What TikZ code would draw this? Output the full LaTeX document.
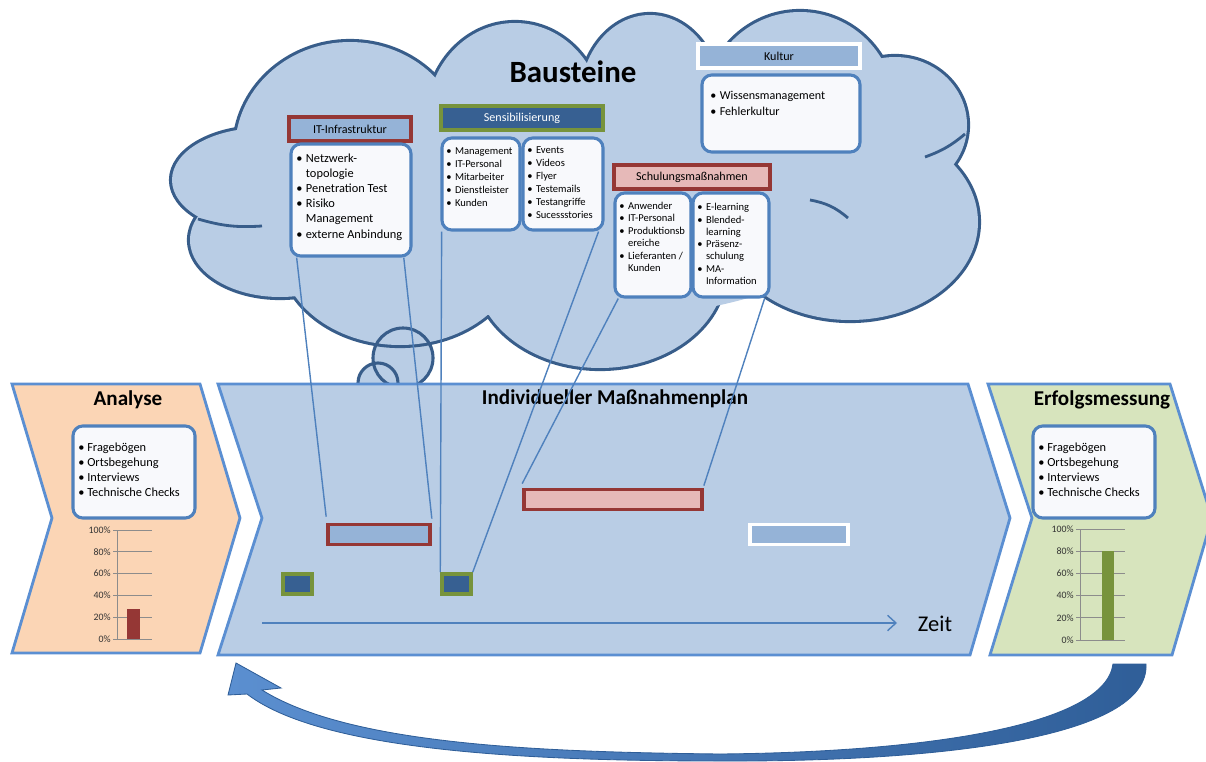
\documentclass[tikz,border=0pt]{standalone}
\usepackage{fontspec}
\setmainfont{Carlito}
\usepackage{tikz}
\usetikzlibrary{calc,arrows.meta}

\definecolor{cloudfill}{HTML}{B9CDE5}
\definecolor{cloudline}{HTML}{385D8A}
\definecolor{chevline}{HTML}{5B8FD2}
\definecolor{anafill}{HTML}{FBD5B5}
\definecolor{erffill}{HTML}{D7E4BD}
\definecolor{boxline}{HTML}{4F81BD}
\definecolor{boxfill}{HTML}{F8F9FC}
\definecolor{lightblue}{HTML}{95B3D7}
\definecolor{darkblue}{HTML}{376092}
\definecolor{darkred}{HTML}{953735}
\definecolor{rosa}{HTML}{E6B9B8}
\definecolor{olive}{HTML}{77933C}
\definecolor{gridgray}{HTML}{8C8C8C}
\definecolor{arrowlight}{HTML}{5B8FD0}
\definecolor{arrowdark}{HTML}{2F5E98}

\newcommand{\blt}{\textbullet}
\newcommand{\listfont}{\fontsize{8.8}{10.7}\selectfont}
\newcommand{\kleinfont}{\fontsize{7.5}{9.2}\selectfont}

\tikzset{
  chevron/.style={draw=chevline, line width=2pt, line join=miter},
  phase/.style={font=\fontsize{15}{17}\selectfont\bfseries, inner sep=0pt},
  headbox/.style={line width=2.4pt, minimum height=0.6cm, inner sep=0pt, font=\fontsize{8.6}{10}\selectfont},
  listbox/.style={draw=boxline, fill=boxfill, line width=2.2pt, rounded corners=7pt, inner sep=0pt},
  listtext/.style={anchor=north west, inner sep=0pt, align=left},
  bar/.style={line width=2.6pt, inner sep=0pt, minimum height=0.5cm},
  milestone/.style={draw=olive, fill=darkblue, line width=2.6pt, inner sep=0pt, minimum width=0.72cm, minimum height=0.5cm},
  link/.style={draw=boxline, line width=1pt},
  cloudarc/.style={draw=cloudline, line width=2pt},
  gridline/.style={draw=gridgray, line width=0.5pt},
  axislabel/.style={anchor=east, inner sep=0pt, font=\fontsize{7}{8}\selectfont, text=black!80},
}

\begin{document}
\begin{tikzpicture}[x=0.025cm, y=-0.025cm]
\useasboundingbox (0,0) rectangle (1206,762);

% thought bubbles (fill first, outline after the cloud)
\fill[cloudfill] (403,358) circle (30) (378,383) circle (20);

% cloud: outline of all puffs, then fill on top
\foreach \cx/\cy/\rx/\ry in {350/150/115/108, 515/118/88/95, 650/100/70/85, 800/108/95/96, 895/125/72/68, 850/222/128/98, 600/270/125/98, 400/250/120/95, 280/240/90/57, 262/180/90/52}
  \draw[cloudline, line width=4.4pt] (\cx,\cy) ellipse ({\rx} and {\ry});
\foreach \cx/\cy/\rx/\ry in {350/150/115/108, 515/118/88/95, 650/100/70/85, 800/108/95/96, 895/125/72/68, 850/222/128/98, 600/270/125/98, 400/250/120/95, 280/240/90/57, 262/180/90/52, 575/200/300/120}
  \fill[cloudfill] (\cx,\cy) ellipse ({\rx} and {\ry});
\draw[cloudarc] (198,219) to[bend right=10] (262,226);
\draw[cloudarc] (965,134) to[bend left=10] (925,157);
\draw[cloudarc] (810,200) to[bend left=15] (848,218);

\draw[cloudline, line width=2.2pt] (403,358) circle (30) (378,383) circle (20);

\node[font=\fontsize{22}{26}\selectfont\bfseries] (bausteine) at (573,72) {Bausteine};

% phases
\draw[chevron, fill=anafill] (12,384) -- (200,384) -- (240,518) -- (200,653) -- (12,653) -- (52,518) -- cycle;
\draw[chevron, fill=cloudfill] (218,384) -- (968,384) -- (1010,518) -- (970,655) -- (218,655) -- (262,518) -- cycle;
\draw[chevron, fill=erffill] (988,384) -- (1170,384) -- (1212,518) -- (1172,655) -- (990,655) -- (1032,518) -- cycle;

\node[phase] (analyse) at (128,400) {Analyse};
\node[phase] (plan) at (615,399) {Individueller Maßnahmenplan};
\node[phase] (erfolg) at (1102,400) {Erfolgsmessung};

% Bausteine
\node[headbox, draw=darkred, fill=lightblue, minimum width=3.05cm] (ithead) at (350,129) {IT-Infrastruktur};
\node[listbox, minimum width=3cm, minimum height=2.8cm] (itbox) at (351,200) {};
\node[listtext, font=\listfont] (ittext) at (296,152) {\begin{tabular}{@{}l@{\hspace{2.5pt}}l@{}}
\blt & Netzwerk-\\ & topologie\\ \blt & Penetration Test\\ \blt & Risiko\\ & Management\\ \blt & externe Anbindung
\end{tabular}};

\node[headbox, draw=olive, fill=darkblue, text=white, minimum width=4.05cm] (senshead) at (522,118) {Sensibilisierung};
\node[listbox, minimum width=1.95cm, minimum height=2.3cm] (sensl) at (481,184) {};
\node[listbox, minimum width=2cm, minimum height=2.3cm] (sensr) at (563,184) {};
\node[listtext, font=\kleinfont] (sensltext) at (446,145) {\begin{tabular}{@{}l@{\hspace{2.5pt}}l@{}}
\blt & Management\\ \blt & IT-Personal\\ \blt & Mitarbeiter\\ \blt & Dienstleister\\ \blt & Kunden
\end{tabular}};
\node[listtext, font=\kleinfont] (sensrtext) at (527,144) {\begin{tabular}{@{}l@{\hspace{2.5pt}}l@{}}
\blt & Events\\ \blt & Videos\\ \blt & Flyer\\ \blt & Testemails\\ \blt & Testangriffe\\ \blt & Sucessstories
\end{tabular}};

\node[headbox, draw=darkred, fill=rosa, minimum width=3.9cm] (schulhead) at (692,177) {Schulungsmaßnahmen};
\node[listbox, minimum width=1.9cm, minimum height=2.6cm] (schull) at (653,245) {};
\node[listbox, minimum width=1.9cm, minimum height=2.6cm] (schulr) at (731,245) {};
\node[listtext, font=\fontsize{7.5}{8.9}\selectfont] (schulltext) at (619,200) {\begin{tabular}{@{}l@{\hspace{2.5pt}}l@{}}
\blt & Anwender\\ \blt & IT-Personal\\ \blt & Produktionsb\\ & ereiche\\ \blt & Lieferanten /\\ & Kunden
\end{tabular}};
\node[listtext, font=\fontsize{7.5}{8.7}\selectfont] (schulrtext) at (697,202) {\begin{tabular}{@{}l@{\hspace{2.5pt}}l@{}}
\blt & E-learning\\ \blt & Blended-\\ & learning\\ \blt & Präsenz-\\ & schulung\\ \blt & MA-\\ & Information
\end{tabular}};

\node[headbox, draw=white, fill=lightblue, minimum width=4.05cm] (kulturhead) at (779,56) {Kultur};
\node[listbox, minimum width=3.95cm, minimum height=1.925cm] (kulturbox) at (781,113.5) {};
\node[listtext, font=\fontsize{8.6}{11.4}\selectfont] (kulturtext) at (710,88) {\begin{tabular}{@{}l@{\hspace{2.5pt}}l@{}}
\blt & Wissensmanagement\\ \blt & Fehlerkultur
\end{tabular}};

% Analyse / Erfolgsmessung
\node[listbox, minimum width=3.05cm, minimum height=2.3cm] (anabox) at (134,472) {};
\node[listtext, font=\listfont] (anatext) at (78,441) {\begin{tabular}{@{}l@{\hspace{2pt}}l@{}}
\blt & Fragebögen\\ \blt & Ortsbegehung\\ \blt & Interviews\\ \blt & Technische Checks
\end{tabular}};
\node[listbox, minimum width=3.05cm, minimum height=2.3cm] (erfbox) at (1094,472) {};
\node[listtext, font=\listfont] (erftext) at (1038,441) {\begin{tabular}{@{}l@{\hspace{2pt}}l@{}}
\blt & Fragebögen\\ \blt & Ortsbegehung\\ \blt & Interviews\\ \blt & Technische Checks
\end{tabular}};

% charts
\draw[gridline] (117,530) -- (117,639);
\foreach \v in {0,20,...,100} {
  \draw[gridline] (113,{639-1.09*\v}) -- (152,{639-1.09*\v});
  \node[axislabel] (ana\v) at (111,{639-1.09*\v}) {\v\%};
}
\fill[darkred] (127,609) rectangle (140,639);

\draw[gridline] (1080,529) -- (1080,640);
\foreach \v in {0,20,...,100} {
  \draw[gridline] (1076,{640-1.11*\v}) -- (1125,{640-1.11*\v});
  \node[axislabel] (erf\v) at (1074,{640-1.11*\v}) {\v\%};
}
\fill[olive] (1102,551) rectangle (1114,640);

% plan
\node[bar, draw=darkred, fill=lightblue, minimum width=2.55cm] (itbar) at (379,534.5) {};
\node[bar, draw=darkred, fill=rosa, minimum width=4.45cm] (schulbar) at (613,499.5) {};
\node[bar, draw=white, fill=lightblue, minimum width=2.45cm] (kulturbar) at (799,534.5) {};
\node[milestone] (sensa) at (297.5,584) {};
\node[milestone] (sensb) at (456.5,584) {};

\coordinate (zeitstart) at (262,623);
\coordinate (zeitend) at (897,623);
\node[font=\fontsize{16}{18}\selectfont, inner sep=0pt] (zeit) at (935,624) {Zeit};
\draw[boxline, line width=1pt, -{Straight Barb[length=6pt,width=11pt]}] (zeitstart) -- (zeitend);

% links
\draw[link] ([xshift=0.18cm]itbox.south west) -- ([yshift=0.15cm]itbar.north west);
\draw[link] ([xshift=-0.22cm]itbox.south east) -- ([yshift=0.1cm]itbar.north east);
\draw[link] ([xshift=0.03cm]sensl.south west) -- (sensb.north west);
\draw[link] ([xshift=-0.15cm]sensr.south east) -- (sensb.north east);
\draw[link] ([xshift=0.12cm]schull.south west) -- ([yshift=0.1cm]schulbar.north west);
\draw[link] ([xshift=-0.15cm]schulr.south east) -- ([yshift=0.05cm]schulbar.north east);

% return arrow
\shade[left color=arrowlight, right color=arrowdark, draw=arrowdark, line width=0.6pt]
  (236,663) -- (281,688) -- (262,690)
  .. controls (350,745) and (540,752) .. (720,754)
  .. controls (930,752) and (1105,725) .. (1113,664)
  -- (1146,664)
  .. controls (1150,738) and (940,762) .. (720,761)
  .. controls (520,761) and (320,750) .. (247,694)
  -- (228,695) -- cycle;
\end{tikzpicture}
\end{document}
